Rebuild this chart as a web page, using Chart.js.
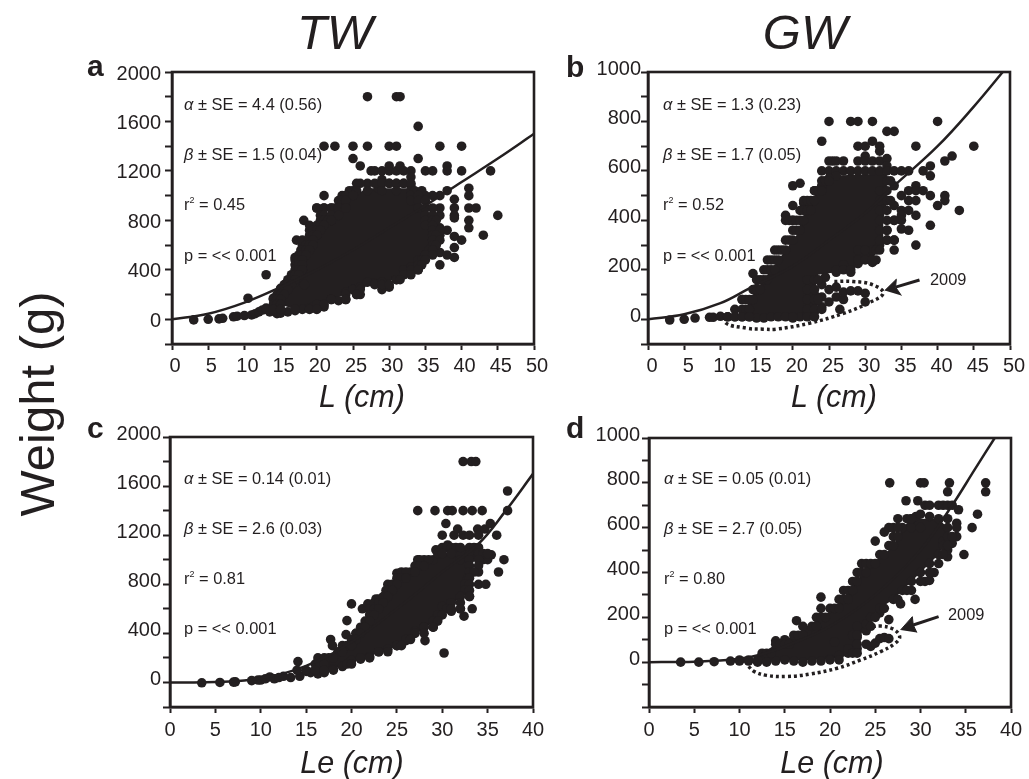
<!DOCTYPE html>
<html>
<head>
<meta charset="utf-8">
<script src="https://cdn.jsdelivr.net/npm/chart.js@4"></script>
<style>
html, body { margin: 0; padding: 0; background: #fff; }
body { position: relative; width: 1029px; height: 779px; overflow: hidden; font-family: "Liberation Sans", Arial, sans-serif; color: #231f20; }
canvas { position: absolute; }
.t { position: absolute; white-space: nowrap; line-height: 1; }
.title { font-size: 49px; font-style: italic; transform: translateX(-50%); }
.xlabel { font-size: 30.5px; font-style: italic; transform: translateX(-50%); }
.letter { font-size: 30px; font-weight: bold; }
.note { font-size: 16.4px; transform: translateY(-50%); }
.note sup { font-size: 9px; line-height: 0; }
#weight { font-size: 49px; left: 37px; top: 404px; transform: translate(-50%, -50%) rotate(-90deg); }
</style>
</head>
<body>
<canvas id="panelA" width="472" height="332"></canvas>
<canvas id="panelB" width="472" height="332"></canvas>
<canvas id="panelC" width="472" height="330"></canvas>
<canvas id="panelD" width="472" height="330"></canvas>

<div class="t title" style="left:335px;top:8px">TW</div>
<div class="t title" style="left:805px;top:8px">GW</div>
<div class="t" id="weight">Weight (g)</div>
<div class="t xlabel" style="left:362px;top:381px">L (cm)</div>
<div class="t xlabel" style="left:834px;top:381px">L (cm)</div>
<div class="t xlabel" style="left:352px;top:747px">Le (cm)</div>
<div class="t xlabel" style="left:832px;top:747px">Le (cm)</div>
<div class="t letter" style="left:87px;top:51px">a</div>
<div class="t letter" style="left:566px;top:52px">b</div>
<div class="t letter" style="left:87px;top:413px">c</div>
<div class="t letter" style="left:566px;top:413px">d</div>

<div class="t note" style="left:184px;top:104px"><i>α</i> ± SE = 4.4 (0.56)</div>
<div class="t note" style="left:184px;top:154px"><i>β</i> ± SE = 1.5 (0.04)</div>
<div class="t note" style="left:184px;top:204px">r<sup>2</sup> = 0.45</div>
<div class="t note" style="left:184px;top:255px">p = &lt;&lt; 0.001</div>
<div class="t note" style="left:663px;top:104px"><i>α</i> ± SE = 1.3 (0.23)</div>
<div class="t note" style="left:663px;top:154px"><i>β</i> ± SE = 1.7 (0.05)</div>
<div class="t note" style="left:663px;top:204px">r<sup>2</sup> = 0.52</div>
<div class="t note" style="left:663px;top:255px">p = &lt;&lt; 0.001</div>
<div class="t note" style="left:184px;top:478px"><i>α</i> ± SE = 0.14 (0.01)</div>
<div class="t note" style="left:184px;top:528px"><i>β</i> ± SE = 2.6 (0.03)</div>
<div class="t note" style="left:184px;top:578px">r<sup>2</sup> = 0.81</div>
<div class="t note" style="left:184px;top:628px">p = &lt;&lt; 0.001</div>
<div class="t note" style="left:664px;top:478px"><i>α</i> ± SE = 0.05 (0.01)</div>
<div class="t note" style="left:664px;top:528px"><i>β</i> ± SE = 2.7 (0.05)</div>
<div class="t note" style="left:664px;top:578px">r<sup>2</sup> = 0.80</div>
<div class="t note" style="left:664px;top:628px">p = &lt;&lt; 0.001</div>
<div class="t note" style="left:930px;top:279px">2009</div>
<div class="t note" style="left:948px;top:614px">2009</div>

<script>
// Values: [length, weight]
const pointsA = [[3,-5],[5,0],[6.5,3],[7,8],[8.5,20],[9,25],[10,30],[10.5,170],[11,35],[11.5,45],[12,60],[12.5,75],[13,90],[13,360],[13.5,60],[14,170],[14.5,100],[14.5,45],[15,50],[15,250],[16,60],[16,300],[17,70],[17,300],[17,440],[17,500],[17.2,640],[18,80],[18,600],[18,400],[18.2,800],[18.3,280],[19,90],[19,720],[19,680],[19,760],[19.5,100],[20,85],[20,680],[20.5,110],[21,100],[21,1000],[20,900],[21,900],[22,900],[23,900],[21,800],[22,800],[22,160],[23,150],[24,160],[24,220],[25,240],[25.5,200],[26,200],[26,260],[27,300],[28,290],[29,300],[29,240],[30,260],[31,320],[32,400],[33,420],[34,400],[34,480],[35,520],[36,560],[36,640],[37,440],[37,540],[37,680],[37,740],[37,840],[37,900],[37,1000],[36,1000],[35,1000],[34,1000],[33,1020],[33,1080],[32,1100],[31,1100],[30,1100],[29,1130],[28.5,1060],[27,1100],[26,1100],[25,1040],[24,980],[23.5,960],[27,1800],[31,1800],[31.5,1800],[34,1560],[21,1400],[22.5,1400],[25,1400],[27,1400],[30,1400],[31,1400],[37,1400],[40,1400],[25,1300],[34,1300],[26,1240],[27.5,1200],[28,1200],[29,1200],[30,1200],[30,1240],[31,1200],[31.5,1240],[32,1200],[33,1200],[33,1150],[35,1200],[36,1200],[38,1200],[38,1240],[40,1200],[44,1200],[38,1040],[41,1060],[41,1000],[39,970],[39,900],[39,840],[39,820],[41,900],[42,900],[45,840],[41,800],[41,740],[38,720],[43,680],[39,670],[40,640],[39,580],[38,520],[39,500]];
// weights were rounded when taken, so the dense part of the cloud sits in rows: [weight, lengths at both edges]
const rowsA = [[1100,[25.5,28,29,30,31,32,33]],[1040,[24.5,25.5,27,29,31,33,33.5,34.5]],[1000,[23.5,24,25,33,34]],[960,[23,23.5,24,33,34,35]],[900,[20,21,22,22.5,23,24,34,35,36]],[840,[20.5,21,22,23,35,36]],[800,[20.5,21,21.5,22,35,36,36.5]],[760,[20,20.5,21,35,36]],[720,[19.5,20,20.5,36,37]],[680,[19.5,20,36,36.5]],[640,[18,19,19.5,36,37]],[600,[18.5,19,19.5,36,36.5]],[560,[17.8,18.5,19,35.5,36]],[520,[17.5,18,18.5,35,36]],[480,[17,17.5,18,34.5,35]],[440,[17.5,18,34,34.5]],[400,[17,17.5,18,33,34]],[360,[16.5,17,17.5,32,33]],[320,[16,16.5,17,31,31.5]],[280,[15.5,16,16.5,28,29,30]],[240,[15,15.5,16,25,26]],[200,[14.5,15,15.5,24,25.5]],[160,[14,14.5,15,22,24]],[120,[14,14.5,15,20,21]],[80,[13,14,15,17,19,20]]];
const coreA = [[33,1060],[34,960],[35,900],[35.5,800],[36,680],[35.5,560],[34.5,480],[33.5,400],[32,360],[30.5,320],[28,280],[25,240],[24,200],[22,160],[20,120],[17,80],[15,120],[15,160],[15.5,200],[16,240],[16.5,280],[17,320],[17.5,360],[18,400],[18,480],[18.5,520],[19,560],[19.5,600],[19.5,640],[20,680],[20.5,720],[21,760],[21.5,800],[22,840],[22.5,900],[24,960],[25,1000],[27,1060]];
const curveA = [[0,0],[5,45],[10,135],[15,260],[20,400],[25,560],[30,740],[35,920],[40,1110],[45,1300],[50,1500]];

const pointsB = [[3,-3],[5,0],[6.5,5],[8.5,8],[9,8],[10,12],[11,10],[12,10],[13,80],[13,10],[14,10],[14.5,185],[15,5],[16,5],[17,10],[18,10],[19,10],[20,5],[21,10],[22,20],[23,30],[24,50],[25,70],[26,90],[27,80],[26.5,40],[24,90],[23,100],[24,140],[25,120],[26,130],[27,110],[28,115],[29,115],[30,105],[30,70],[25,800],[28,800],[29,800],[31,800],[40,800],[33,760],[34,760],[24,720],[31,720],[29,700],[30,700],[32,700],[37,700],[45,700],[32,680],[30,660],[42,660],[25,640],[25.5,640],[26,640],[27,640],[29,640],[30,640],[31,640],[32,640],[33,650],[41,640],[33,620],[39,620],[24,600],[25,600],[26,600],[27,600],[28,600],[29,600],[30,600],[31,600],[32,600],[33,600],[34,600],[35,600],[36,600],[38,600],[39,580],[26,580],[25,570],[21,550],[20,540],[24,540],[34,540],[37,540],[23,520],[36,520],[37,520],[38,520],[35,500],[39,500],[41,500],[36,480],[37,480],[41,480],[20,460],[22,460],[34,460],[40,460],[21.5,470],[43,440],[35,440],[36,440],[19,420],[37,420],[19,400],[20,400],[35,420],[33,480],[34,400],[35,400],[39,380],[36,360],[35,365],[33,360],[33,320],[34,320],[37,300],[32,300],[34,280],[31,280],[29,280],[31.5,240],[31,230],[29,225],[27,220],[28,190],[26,190],[24.5,170]];
const rowsB = [[560,[24,24.5,25,33,33.5]],[520,[23,23.5,24,32,33]],[480,[21.5,22,22.5,23,32,33,33.5]],[440,[21,21.5,22,22.5,32,33]],[400,[19.5,20,20.5,21,21.5,32,33,34]],[360,[20,20.5,21,32,33]],[320,[19,19.5,20,32,33,34]],[280,[17.5,18,18.5,19,30,31.5,32]],[240,[16.5,17,17.5,18,29,30,31]],[200,[16,16.5,17,17.5,26,27,28]],[160,[15,15.5,16,16.5,22,23,23.5]],[120,[14.5,15,15.5,22,23]],[80,[13,13.5,14,14.5,22,23,23.5]],[40,[12,13,13.5,14,22,23,24]],[10,[11,12,13,14,20,22,23]]];
const coreB = [[25,580],[33,590],[33,480],[32.5,400],[32.5,320],[32,300],[31,240],[28,200],[26,190],[23.5,180],[23,100],[23.5,60],[23,20],[20,5],[14,5],[13.5,40],[14,80],[15,120],[16,160],[17,200],[18,240],[19,280],[20,320],[21,360],[21,400],[22,440],[22.5,480],[23.5,520],[24.5,560]];
const curveB = [[0,0],[5,20],[10,65],[14,125],[20,215],[25,320],[30,430],[34,540],[40,700],[45,860],[49,1000]];
const ovalB = [[11.75,45],[10.6,-10],[13.6,-36],[15.9,-40],[17.7,-40],[22.3,-16],[27,24],[30.4,65],[32.5,105],[31.1,139],[28.3,153],[25.6,153]];
const shaftB = [[37.5,159],[34.2,130]];
const headB = [[32.7,116],[34.3,162],[34.2,130],[35,96]];

const pointsC = [[3.5,-3],[5.5,0],[7,3],[7.2,5],[9,15],[9.7,20],[10,20],[10.5,30],[11,45],[11.5,30],[12,40],[12.5,50],[13.3,40],[14.1,170],[14.3,50],[15,90],[15.5,80],[16.3,70],[16.3,200],[17,80],[17.7,350],[17.9,300],[18,110],[19,130],[19.4,390],[19.5,504],[20,640],[20,180],[20.5,400],[21,190],[21.2,600],[21.8,640],[22,600],[22.7,680],[22,210],[23,250],[23,680],[24,270],[24,750],[25,300],[25,890],[25.3,890],[26,340],[26.5,900],[27,420],[27.3,1000],[28,450],[28,1000],[28.1,340],[29,450],[29,1000],[29.5,520],[29.3,1080],[30,620],[30.2,240],[30,1200],[30.4,1295],[30.6,1120],[31,580],[31.3,1200],[31.7,1250],[32,600],[32.3,1200],[32.4,540],[33,1200],[33,700],[33.3,600],[33.9,1250],[34,1200],[34,800],[34,900],[34.7,1250],[34.8,800],[34.5,1000],[35,1000],[35.3,1295],[35.4,1040],[35,1030],[36,1200],[36.2,900],[36.8,1000],[32.3,1800],[33.2,1800],[33.7,1800],[37.2,1560],[27.3,1400],[29.2,1400],[30.6,1400],[31.1,1400],[32.3,1400],[33.3,1400],[34.4,1400],[37.2,1400]];
const rowsC = [[1100,[30,30.5,31,31.5,32,33,33.5,34]],[1050,[29.5,30,31,33,34,34.5,35]],[1000,[27.5,28.5,32,33,34]],[950,[27,27.5,28,33,34]],[900,[25.5,26,27,33,33.5]],[850,[25,25.5,26,32.8,33]],[800,[24,24.5,25,32.5,33]],[750,[23.8,24.5,32.5,33]],[700,[23.5,24,32,33]],[650,[22.5,23,23.5,31,32]],[600,[22.5,23,30.5,31,32]],[550,[22,22.5,29.5,30]],[500,[21.5,22,29,29.5]],[450,[21,21.5,28,29]],[400,[20.5,21,27,28]],[350,[20,20.5,26,26.5]],[300,[19,19.5,20,25,25.5]],[250,[18.5,19,23,24]],[200,[17,17.5,18,21,22]],[150,[16,16.5,17,19.5,20]],[100,[14,15,16,17,18]]];
const coreC = [[14,95],[16,130],[17,180],[19,250],[20,300],[20.5,350],[21,400],[21.5,450],[22,500],[22.5,550],[23,600],[23.5,650],[24,700],[24.5,750],[25,800],[26,850],[27,900],[28,950],[29,1000],[30.5,1050],[31.5,1100],[33.5,1100],[34,1050],[33.5,1000],[33,900],[32.5,800],[32,700],[31,620],[30,560],[29,500],[28,430],[27,400],[26,350],[25,300],[24,260],[22,215],[20,170],[18,110],[16,85]];
const curveC = [[0,0],[5,3],[10,35],[15,135],[20,330],[25,600],[30,900],[34,1130],[37,1400],[40,1700]];

const pointsD = [[3.5,0],[5.5,0],[7.2,2],[9,5],[10,5],[11,5],[12,0],[13,0],[14,5],[15,10],[16,5],[17,0],[18,5],[19,5],[20,15],[21,30],[22,40],[23,60],[24.5,70],[25,85],[25.5,105],[26,110],[26.5,105],[24,140],[23,110],[22,60],[20.5,90],[26.6,800],[30,800],[30.4,800],[33.2,800],[37.2,800],[33,760],[37.2,760],[28.4,720],[29.7,720],[30.5,700],[31,700],[32,700],[32.5,700],[33,700],[33.5,700],[34.2,680],[36.3,660],[27.5,640],[29,640],[29.5,650],[30,660],[31,650],[34,620],[35.7,600],[26.5,600],[27,600],[28,600],[29,600],[30,600],[26,580],[25,540],[34,560],[33.5,530],[34.8,480],[33,470],[33,500],[32.5,540],[31.5,400],[30.5,360],[31,365],[29,320],[29.4,280],[27.8,260],[19,290],[19,240],[25.5,220],[26.5,190],[16.3,185],[18.5,160],[24,170],[17.5,140],[14,95],[15,100]];
const rowsD = [[640,[28.5,29,32,33]],[600,[27.5,33,34]],[560,[27,27.5,33,33.5]],[520,[26.5,27,32.5,33]],[480,[25.5,26,32,32.5]],[440,[23.5,24,24.5,25,31,32]],[400,[23,23.5,24,30,31]],[360,[22.5,23,29,30]],[320,[21.5,22,22.5,28,28.5]],[280,[21,21.5,22,27,27.5]],[240,[20,20.5,21,25.5,26]],[200,[18.5,19,19.5,24.5,25]],[160,[17,18,18.5,23,24.5]],[120,[16,16.5,17,22.5,23]],[80,[14,14.5,15,15.5,23,24]],[40,[12.5,13,13.5,22.5,23]],[10,[10,11,12,20,21]]];
const coreD = [[12,5],[12.5,40],[14,80],[16,120],[17.5,160],[19,200],[20.5,240],[21.5,280],[22,320],[23,360],[23.5,400],[24.5,440],[26,480],[27,520],[27.5,560],[28,600],[29,640],[32,640],[33,600],[33,560],[32.5,520],[32,480],[31,440],[30,400],[29,360],[28,320],[27,280],[25.5,240],[24.5,200],[24,170],[23.5,130],[23,100],[23,60],[22,30],[20,12]];
const curveD = [[0,0],[5,2],[10,15],[12.5,35],[15,70],[20,160],[25,300],[30,500],[33.5,700],[36,860],[38.2,1000]];
const ovalD = [[11,-19],[11.6,-41],[13,-59],[15.2,-64],[17.8,-53],[20.8,-27],[23.4,10],[25.6,47],[27.2,84],[27.7,114],[27,147],[25.6,161],[24.6,158]];
const shaftD = [[32,203],[29.2,166]];
const headD = [[27.8,144],[29.1,203],[29.2,166],[29.6,132]];

const ink = '#231f20';

function toXY(list) {
    return list.map(p => ({ x: p[0], y: p[1] }));
}

function rowsToXY(rows) {
    const out = [];
    rows.forEach(r => r[1].forEach(x => out.push({ x: x, y: r[0] })));
    return out;
}

// plain box around the plot, the axes only draw left and bottom
const frame = {
    id: 'frame',
    afterDraw(chart) {
        const a = chart.chartArea, ctx = chart.ctx;
        ctx.save();
        ctx.strokeStyle = ink;
        ctx.lineWidth = 2.6;
        ctx.strokeRect(a.left, a.top, a.right - a.left, a.bottom - a.top);
        ctx.restore();
    }
};

function drawPanel(p) {
    const canvas = document.getElementById(p.id);
    canvas.style.left = (p.left - 80) + 'px';
    canvas.style.top = (p.top - 20) + 'px';
    canvas.width = p.width + 98;
    canvas.height = p.height + 60;

    const datasets = [
        { data: toXY(p.curve), showLine: true, fill: false, tension: 0.4, borderColor: ink, borderWidth: 2.5, pointRadius: 0 },
        { data: toXY(p.points).concat(rowsToXY(p.rows)), showLine: false, backgroundColor: ink, borderWidth: 0, pointRadius: 4.8 },
        { data: toXY(p.core), showLine: true, fill: 'shape', tension: 0, borderColor: ink, backgroundColor: ink, borderWidth: 0, pointRadius: 0 }
    ];
    if (p.oval) {
        datasets.push({ data: toXY(p.oval), showLine: true, fill: false, tension: 0.4, borderColor: ink, borderWidth: 3.5, borderDash: [3, 3], pointRadius: 0 });
        datasets.push({ data: toXY(p.shaft), showLine: true, fill: false, borderColor: ink, borderWidth: 3, pointRadius: 0 });
        datasets.push({ data: toXY(p.head), showLine: true, fill: 'shape', tension: 0, borderColor: ink, backgroundColor: ink, borderWidth: 1, pointRadius: 0 });
    }

    new Chart(canvas, {
        type: 'scatter',
        data: { datasets: datasets },
        plugins: [frame],
        options: {
            responsive: false,
            animation: false,
            layout: { padding: { top: 20, right: 18, bottom: 0, left: 0 } },
            plugins: { legend: { display: false }, tooltip: { enabled: false } },
            scales: {
                x: {
                    type: 'linear',
                    min: 0,
                    max: p.xMax,
                    afterFit: s => { s.height = 40; },
                    grid: { drawOnChartArea: false, tickLength: 6, tickWidth: 2, tickColor: ink },
                    border: { color: ink, width: 2.6 },
                    ticks: { stepSize: 5, autoSkip: false, maxRotation: 0, color: ink, padding: p.xPad, labelOffset: p.xShift, font: { family: 'Liberation Sans', size: 20 } }
                },
                y: {
                    type: 'linear',
                    min: p.yMin,
                    max: p.yMax,
                    afterFit: s => { s.width = 80; },
                    grid: { drawOnChartArea: false, tickLength: 7, tickWidth: 2, tickColor: ink },
                    border: { color: ink, width: 2.6 },
                    ticks: {
                        stepSize: p.yStep,
                        autoSkip: false,
                        color: ink,
                        padding: p.yPad,
                        labelOffset: p.yShift,
                        font: { family: 'Liberation Sans', size: 20 },
                        callback: v => (v >= 0 && v % (p.yStep * 2) === 0) ? String(v) : ''
                    }
                }
            }
        }
    });
}

drawPanel({ id: 'panelA', left: 172, top: 72, width: 362, height: 272, xMax: 50, xShift: 3, xPad: 4, yMin: -200, yMax: 2000, yStep: 200, yPad: 4, yShift: 2, points: pointsA, rows: rowsA, core: coreA, curve: curveA });
drawPanel({ id: 'panelB', left: 648, top: 72, width: 362, height: 272, xMax: 50, xShift: 4, xPad: 4, yMin: -100, yMax: 1000, yStep: 100, yPad: 0, yShift: -3, points: pointsB, rows: rowsB, core: coreB, curve: curveB, oval: ovalB, shaft: shaftB, head: headB });
drawPanel({ id: 'panelC', left: 170, top: 437, width: 363, height: 270, xMax: 40, xShift: 0, xPad: 5, yMin: -200, yMax: 2000, yStep: 200, yPad: 2, yShift: -3, points: pointsC, rows: rowsC, core: coreC, curve: curveC });
drawPanel({ id: 'panelD', left: 649, top: 438, width: 362, height: 269, xMax: 40, xShift: 0, xPad: 5, yMin: -200, yMax: 1000, yStep: 100, yPad: 2, yShift: -3, points: pointsD, rows: rowsD, core: coreD, curve: curveD, oval: ovalD, shaft: shaftD, head: headD });
</script>
</body>
</html>
